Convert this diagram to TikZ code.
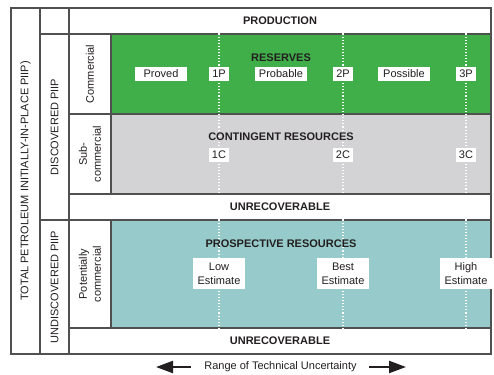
\documentclass[tikz,border=0pt]{standalone}
\usepackage{fontspec}
\setmainfont{Liberation Sans}
\usetikzlibrary{backgrounds,arrows.meta}
\definecolor{resgreen}{RGB}{64,174,73}
\definecolor{contgray}{RGB}{211,211,213}
\definecolor{prospteal}{RGB}{151,203,203}
\definecolor{frame}{RGB}{80,80,80}
\definecolor{ink}{RGB}{35,31,32}
\pgfdeclarelayer{celllayer}
\pgfdeclarelayer{edgelayer}
\pgfdeclarelayer{nodelayer}
\pgfsetlayers{celllayer,edgelayer,nodelayer,main}
\newcommand{\diagfont}{\fontsize{11}{14}\selectfont}
\tikzstyle{cell}=[rectangle, draw=frame, line width=1.1pt, inner sep=0pt, text=ink, font=\diagfont\bfseries]
\tikzstyle{heading}=[text=ink, font=\diagfont\bfseries]
\tikzstyle{tag}=[rectangle, fill=white, inner xsep=3pt, inner ysep=0pt, minimum height=14pt, text=ink, font=\diagfont]
\tikzstyle{word}=[style=tag, minimum width=52pt]
\tikzstyle{estimate}=[style=tag, minimum width=52pt, minimum height=31pt, align=center]
\tikzstyle{sidelabel}=[rotate=90, align=center, text=ink, font=\diagfont]
\tikzstyle{guide}=[draw=white, dotted, line width=1.1pt]
\tikzstyle{uncertainty}=[-{Triangle[length=17pt,width=12pt]}, line width=2.2pt, draw=ink]

\begin{document}
\begin{tikzpicture}[x=1pt, y=-1pt]
            \useasboundingbox (0,0) rectangle (494,374);
            \begin{pgfonlayer}{celllayer}
                \node [style=cell, minimum width=29pt, minimum height=346pt] (total) at (25.5, 181) {};
                \node [style=cell, minimum width=29pt, minimum height=26pt] (blank) at (54.5, 21) {};
                \node [style=cell, minimum width=29pt, minimum height=186pt] (discovered) at (54.5, 127) {};
                \node [style=cell, minimum width=29pt, minimum height=134pt] (undiscovered) at (54.5, 287) {};

                \node [style=cell, minimum width=422pt, minimum height=26pt] (production) at (280, 21) {PRODUCTION};
                \node [style=cell, minimum width=42pt, minimum height=80pt] (commercial) at (90, 74) {};
                \node [style=cell, minimum width=380pt, minimum height=80pt, fill=resgreen] (reserves) at (301, 74) {};
                \node [style=cell, minimum width=42pt, minimum height=80pt] (subcomm) at (90, 154) {};
                \node [style=cell, minimum width=380pt, minimum height=80pt, fill=contgray] (contingent) at (301, 154) {};
                \node [style=cell, minimum width=422pt, minimum height=26pt] (unrecA) at (280, 207) {UNRECOVERABLE};
                \node [style=cell, minimum width=42pt, minimum height=108pt] (potcomm) at (90, 274) {};
                \node [style=cell, minimum width=380pt, minimum height=108pt, fill=prospteal] (prospective) at (301, 274) {};
                \node [style=cell, minimum width=422pt, minimum height=26pt] (unrecB) at (280, 341) {UNRECOVERABLE};
            \end{pgfonlayer}
            \begin{pgfonlayer}{nodelayer}
                \node [style=sidelabel] (lblTotal) at (total.center) {TOTAL PETROLEUM INITIALLY-IN-PLACE PIIP)};
                \node [style=sidelabel] (lblDisc) at (discovered.center) {DISCOVERED PIIP};
                \node [style=sidelabel] (lblUndisc) at (undiscovered.center) {UNDISCOVERED PIIP};
                \node [style=sidelabel] (lblComm) at (commercial.center) {Commercial};
                \node [style=sidelabel] (lblSub) at (subcomm.center) {Sub-\\commercial};
                \node [style=sidelabel] (lblPot) at (potcomm.center) {Potentially\\commercial};

                \node [style=heading] (hdReserves) at (281, 58) {RESERVES};
                \node [style=word] (proved) at (161, 74) {Proved};
                \node [style=tag] (tag1P) at (219, 74) {1P};
                \node [style=word] (probable) at (281, 74) {Probable};
                \node [style=tag] (tag2P) at (343, 74) {2P};
                \node [style=word] (possible) at (404, 74) {Possible};
                \node [style=tag] (tag3P) at (466, 74) {3P};

                \node [style=heading] (hdContingent) at (281, 137) {CONTINGENT RESOURCES};
                \node [style=tag] (tag1C) at (219, 155) {1C};
                \node [style=tag] (tag2C) at (343, 155) {2C};
                \node [style=tag] (tag3C) at (466, 155) {3C};

                \node [style=heading] (hdProspective) at (281, 244) {PROSPECTIVE RESOURCES};
                \node [style=estimate] (low) at (219, 273.5) {Low\\Estimate};
                \node [style=estimate] (best) at (343, 273.5) {Best\\Estimate};
                \node [style=estimate] (high) at (466, 273.5) {High\\Estimate};

                \node [text=ink, font=\diagfont] (range) at (280.5, 367) {Range of Technical Uncertainty};
                \coordinate (leftTip) at (156, 367);
                \coordinate (rightTip) at (406, 367);
            \end{pgfonlayer}
            \begin{pgfonlayer}{edgelayer}
                \draw [style=guide] (reserves.north -| tag1P) to (contingent.south -| tag1P);
                \draw [style=guide] (reserves.north -| tag2P) to (contingent.south -| tag2P);
                \draw [style=guide] (reserves.north -| tag3P) to (contingent.south -| tag3P);
                \draw [style=guide] (prospective.north -| low) to (prospective.south -| low);
                \draw [style=guide] (prospective.north -| best) to (prospective.south -| best);
                \draw [style=guide] (prospective.north -| high) to (prospective.south -| high);
            \end{pgfonlayer}
            \draw [style=uncertainty] ([xshift=-10pt]range.west) to (leftTip);
            \draw [style=uncertainty] ([xshift=9pt]range.east) to (rightTip);
        \end{tikzpicture}
\end{document}
